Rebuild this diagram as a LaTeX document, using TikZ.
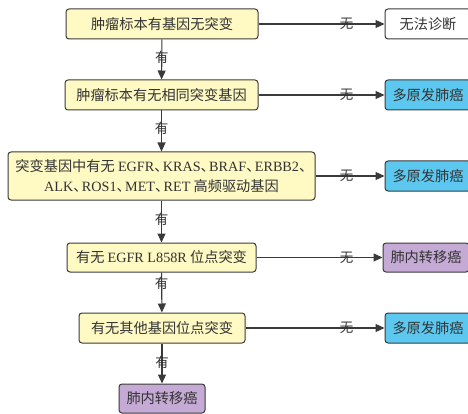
\documentclass[tikz,border=0pt]{standalone}
\usepackage{fontspec}
\setmainfont{Liberation Serif}
\newfontfamily\cjk{Noto Sans CJK SC}
\usetikzlibrary{arrows.meta}

\definecolor{boxyellow}{RGB}{255,249,196}
\definecolor{boxblue}{RGB}{92,200,240}
\definecolor{boxpurple}{RGB}{196,170,212}
\definecolor{linegray}{RGB}{58,58,58}
\definecolor{textgray}{RGB}{51,51,51}

% narrow enumeration comma between latin names
\newcommand{\dun}{\makebox[0.6em][l]{、}}

\begin{document}
\begin{tikzpicture}[%
      x=1pt, y=-1pt,
      box/.style={draw=linegray, line width=1pt, rounded corners=3pt,
        inner sep=0pt, text=textgray, align=center,
        font=\cjk\fontsize{14.2}{20}\selectfont},
      ask/.style={box, fill=boxyellow},
      nores/.style={box, fill=white},
      primary/.style={box, fill=boxblue},
      metas/.style={box, fill=boxpurple},
      arr/.style={draw=linegray, line width=1.1pt, -{Triangle[length=9pt,width=8pt]}},
      lbl/.style={text=textgray, inner sep=0pt, font=\cjk\fontsize{13.5}{15}\selectfont},
      ]
      \useasboundingbox (0,0) rectangle (468,414);
      \clip (0,0) rectangle (468,414);

      % left column
      \node [ask, minimum width=192pt, minimum height=30pt] (q1) at (162,24) {肿瘤标本有基因无突变};
      \node [ask, minimum width=193pt, minimum height=30pt] (q2) at (161.5,95) {肿瘤标本有无相同突变基因};
      \node [ask, minimum width=307pt, minimum height=48pt] (q3) at (161.5,176)
        {突变基因中有无 \textrm{EGFR}\dun\textrm{KRAS}\dun\textrm{BRAF}\dun\textrm{ERBB2}\dun\\
         \textrm{ALK}\dun\textrm{ROS1}\dun\textrm{MET}\dun\textrm{RET} 高频驱动基因};
      \node [ask, minimum width=189pt, minimum height=29pt] (q4) at (161.5,257.5) {有无 \textrm{EGFR L858R} 位点突变};
      \node [ask, minimum width=166pt, minimum height=30pt] (q5) at (162,328) {有无其他基因位点突变};
      \node [metas, minimum width=86pt, minimum height=29pt] (q6) at (162,398.5) {肺内转移癌};

      % right column
      \node [nores, minimum width=86pt, minimum height=30pt] (r1) at (428,24) {无法诊断};
      \node [primary, minimum width=86pt, minimum height=30pt] (r2) at (428,95) {多原发肺癌};
      \node [primary, minimum width=86pt, minimum height=30pt] (r3) at (428,176) {多原发肺癌};
      \node [metas, minimum width=86pt, minimum height=29pt] (r4) at (426,257.5) {肺内转移癌};
      \node [primary, minimum width=86pt, minimum height=30pt] (r5) at (428,328) {多原发肺癌};

      % yes
      \draw [arr] (q1) -- node [lbl, pos=0.45] (y1) {有} (q2);
      \draw [arr] (q2) -- node [lbl, pos=0.43] (y2) {有} (q3);
      \draw [arr] (q3) -- node [lbl, pos=0.44] (y3) {有} (q4);
      \draw [arr] (q4) -- node [lbl, pos=0.27] (y4) {有} (q5);
      \draw [arr] (q5) -- node [lbl, pos=0.46] (y5) {有} (q6);

      % no
      \draw [arr] (q1) -- (r1);
      \draw [arr] (q2) -- (r2);
      \draw [arr] (q3) -- (r3);
      \draw [arr] (q4) -- (r4);
      \draw [arr] (q5) -- (r5);
      \node [lbl] (n1) at ([xshift=-38pt]r1.west) {无};
      \node [lbl] (n2) at ([xshift=-38pt]r2.west) {无};
      \node [lbl] (n3) at ([xshift=-38pt]r3.west) {无};
      \node [lbl] (n4) at ([xshift=-36pt]r4.west) {无};
      \node [lbl] (n5) at ([xshift=-38pt]r5.west) {无};
\end{tikzpicture}
\end{document}
